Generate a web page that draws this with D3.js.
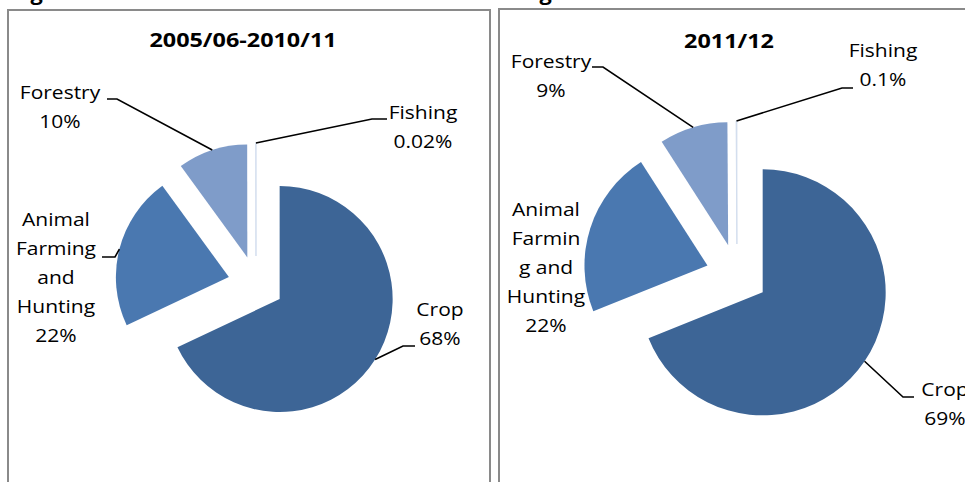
<!DOCTYPE html>
<html>
<head>
<meta charset="utf-8">
<script src="https://cdn.jsdelivr.net/npm/d3@7"></script>
<style>
  html, body { margin: 0; padding: 0; background: #fff; }
  svg { display: block; }
  text { font-family: "Open Sans", "Noto Sans", sans-serif; fill: #000; }
</style>
</head>
<body>
<svg id="chart" width="965" height="482"></svg>
<script>
// Sector shares of agricultural GDP (%)
const categories = ["Crop", "Animal Farming and Hunting", "Forestry", "Fishing"];
const share200506to201011 = [68, 22, 10, 0.02];
const share201112 = [69, 22, 9, 0.1];
const valueLabels200506to201011 = ["68%", "22%", "10%", "0.02%"];
const valueLabels201112 = ["69%", "22%", "9%", "0.1%"];
// Category names as wrapped in each panel's labels
const nameLines200506to201011 = [["Crop"], ["Animal", "Farming", "and", "Hunting"], ["Forestry"], ["Fishing"]];
const nameLines201112 = [["Crop"], ["Animal", "Farmin", "g and", "Hunting"], ["Forestry"], ["Fishing"]];
const periodTitles = ["2005/06-2010/11", "2011/12"];
const figureTitle = "Figure 2.3: Share of each sub-sector in the total agricultural GDP";

const sliceColors = ["#3d6596", "#4a78b0", "#7f9cc9", "#c9d6ea"];

const svg = d3.select("#chart");
const TEXT_STRETCH = 1.2;
const LINE_H = 29;

// Figure caption, running off the top edge
svg.append("text")
  .attr("x", 12).attr("y", 0)
  .attr("textLength", 693).attr("lengthAdjust", "spacingAndGlyphs")
  .style("font-weight", "bold").style("font-size", "20px")
  .text(figureTitle);

const panels = [
  {
    title: periodTitles[0], values: share200506to201011,
    valueLabels: valueLabels200506to201011, nameLines: nameLines200506to201011,
    box: { x: 8, y: 10, w: 482 }, titlePos: [243, 47],
    cx: 256, cy: 284, r: 113, explode: 28,
    labels: [
      { x: 440, y: 310, elbow: [403, 346], end: [415, 346] },
      { x: 56, y: 220, elbow: [115, 257], end: [102, 257] },
      { x: 60, y: 93, elbow: [117, 99], end: [107, 99] },
      { x: 423, y: 113, elbow: [372, 119], end: [387, 119] }
    ]
  },
  {
    title: periodTitles[1], values: share201112,
    valueLabels: valueLabels201112, nameLines: nameLines201112,
    box: { x: 499, y: 9, w: 480 }, titlePos: [729, 48],
    cx: 737, cy: 275, r: 123, explode: 31,
    labels: [
      { x: 945, y: 390, elbow: [903, 397], end: [914, 397] },
      { x: 546, y: 210, elbow: null, end: null },
      { x: 551, y: 62, elbow: [603, 67], end: [592, 67] },
      { x: 883, y: 51, elbow: [842, 88], end: [853, 88] }
    ]
  }
];

const pie = d3.pie().sort(null).value(d => d).startAngle(0).endAngle(2 * Math.PI);

panels.forEach(p => {
  // Chart area frame
  svg.append("rect")
    .attr("x", p.box.x).attr("y", p.box.y)
    .attr("width", p.box.w).attr("height", 500)
    .attr("fill", "none").attr("stroke", "#8a8a8a").attr("stroke-width", 2);

  svg.append("g")
    .attr("transform", `translate(${p.titlePos[0]},${p.titlePos[1]}) scale(${TEXT_STRETCH},1)`)
    .append("text")
    .attr("text-anchor", "middle")
    .style("font-weight", "bold").style("font-size", "19.5px")
    .text(p.title);

  const arc = d3.arc().innerRadius(0).outerRadius(p.r);
  const arcs = pie(p.values);

  const slices = arcs.map((a, i) => {
    const mid = (a.startAngle + a.endAngle) / 2;
    const ox = p.cx + Math.sin(mid) * p.explode;
    const oy = p.cy - Math.cos(mid) * p.explode;
    return { a, i, mid, ox, oy,
      edge: [ox + Math.sin(mid) * p.r, oy - Math.cos(mid) * p.r] };
  });

  // Exploded slices
  svg.append("g").selectAll("path")
    .data(slices)
    .join("path")
    .attr("transform", d => `translate(${d.ox},${d.oy})`)
    .attr("d", d => arc(d.a))
    .attr("fill", d => sliceColors[d.i])
    .attr("stroke", d => d.i === 3 ? "#d3deee" : "none")
    .attr("stroke-width", 1);

  // Leader lines
  slices.forEach(s => {
    const L = p.labels[s.i];
    if (!L.elbow) return;
    svg.append("path")
      .attr("d", d3.line()([s.edge, L.elbow, L.end]))
      .attr("fill", "none").attr("stroke", "#000").attr("stroke-width", 1.6);
  });

  // Data labels: category name lines followed by the value
  slices.forEach(s => {
    const L = p.labels[s.i];
    const lines = p.nameLines[s.i].concat([p.valueLabels[s.i]]);
    const t = svg.append("g")
      .attr("transform", `translate(${L.x},${L.y}) scale(${TEXT_STRETCH},1)`)
      .append("text")
      .attr("text-anchor", "middle")
      .style("font-size", "17.5px");
    lines.forEach((ln, k) => {
      t.append("tspan").attr("x", 0).attr("y", k * LINE_H).attr("dy", "0.36em").text(ln);
    });
  });
});
</script>
</body>
</html>
